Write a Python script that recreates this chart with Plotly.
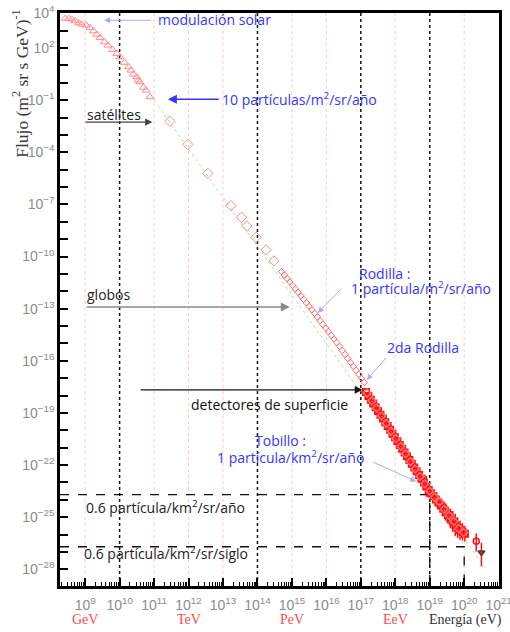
import numpy as np
import plotly.graph_objects as go

# Cosmic-ray energy spectrum.  Energies as log10(E / eV),
# fluxes as log10(flux / (m^2 sr s GeV)^-1).

# direct measurements at low energy (open triangles)
tri_logE = [8.42, 8.52, 8.61, 8.71, 8.81, 8.90, 9.03, 9.14, 9.24, 9.34, 9.43, 9.56, 9.66,
            9.80, 9.92, 10.01, 10.14, 10.26, 10.33, 10.40, 10.50, 10.54, 10.59, 10.69,
            10.77, 10.88]
tri_logF = [3.70, 3.70, 3.66, 3.56, 3.44, 3.37, 3.31, 3.18, 2.98, 2.79, 2.60, 2.35, 2.16,
            1.91, 1.68, 1.49, 1.17, 0.91, 0.72, 0.49, 0.34, 0.15, 0.05, -0.27,
            -0.43, -0.81]

# satellite / balloon measurements (open diamonds)
dia_logE = [11.46, 11.98, 12.56, 13.23, 13.54, 13.69, 13.96, 14.25, 14.48]
dia_logF = [-2.21, -3.55, -5.21, -7.07, -7.74, -8.24, -8.89, -9.62, -10.25]

# knee region (dense small markers)
knee_logE = [14.70, 14.78, 14.86, 14.94, 15.02, 15.10, 15.18, 15.26, 15.34, 15.42, 15.50,
             15.58, 15.66, 15.74, 15.82, 15.90, 15.98, 16.06, 16.14, 16.22, 16.30, 16.38,
             16.46, 16.54, 16.62, 16.70, 16.78, 16.86, 16.94, 17.02, 17.10]
knee_logF = [-10.87, -11.06, -11.26, -11.46, -11.66, -11.86, -12.06, -12.26, -12.46, -12.66,
             -12.86, -13.06, -13.27, -13.48, -13.69, -13.90, -14.11, -14.32, -14.53, -14.74,
             -14.95, -15.17, -15.40, -15.63, -15.86, -16.09, -16.32, -16.55, -16.78, -17.01,
             -17.24]

# ground arrays above 10^17 eV
uhe_logE = [17.15, 17.22, 17.29, 17.36, 17.43, 17.50, 17.57, 17.64, 17.71, 17.78, 17.85,
            17.92, 17.99, 18.06, 18.13, 18.20, 18.27, 18.34, 18.41, 18.48, 18.55, 18.62,
            18.69, 18.76, 18.83, 18.90, 18.97, 19.04, 19.11, 19.18, 19.25, 19.32, 19.39,
            19.46, 19.53, 19.60, 19.67, 19.74, 19.81, 19.88, 19.95, 20.02]
uhe_logF = [-17.80, -18.02, -18.24, -18.45, -18.67, -18.89, -19.10, -19.32, -19.54, -19.75,
            -19.97, -20.19, -20.40, -20.62, -20.84, -21.06, -21.27, -21.49, -21.71, -21.92,
            -22.14, -22.36, -22.57, -22.79, -23.01, -23.22, -23.44, -23.62, -23.80, -23.98,
            -24.15, -24.33, -24.51, -24.70, -24.88, -25.08, -25.25, -25.45, -25.60, -25.75,
            -25.85, -25.95]
uhe_err = [0.0, 0.0, 0.0, 0.0, 0.0, 0.0, 0.0, 0.0, 0.0, 0.0, 0.0,
           0.05, 0.05, 0.05, 0.05, 0.05, 0.08, 0.08, 0.08, 0.10, 0.12, 0.15,
           0.20, 0.30, 0.45, 0.60, 0.40, 0.25, 0.20, 0.25, 0.35, 0.40, 0.45,
           0.50, 0.50, 0.55, 0.60, 0.65, 0.60, 0.55, 0.50, 0.45]

# second ground-array data set (open diamonds)
agasa_logE = [17.18, 17.32, 17.46, 17.60, 17.74, 17.88, 18.02, 18.16, 18.30, 18.44,
              18.58, 18.72, 18.86, 19.00, 19.14, 19.28, 19.42, 19.56, 19.70, 19.84, 19.98]
agasa_logF = [-17.85, -18.30, -18.72, -19.17, -19.60, -20.05, -20.47, -20.92, -21.35, -21.80,
              -22.22, -22.65, -23.08, -23.50, -23.85, -24.12, -24.55, -24.90, -25.25, -25.65,
              -25.88]

# highest-energy events
top_logE = [20.35, 20.50]
top_logF = [-26.38, -27.03]
top_err_up = [0.45, 0.55]
top_err_dn = [0.60, 0.80]

# power-law guide
fit_logE = [11.0, 20.6]
fit_logF = [-1.0, -27.9]

# integral rates: 0.6 particle/km^2/sr per year and per century
rate_year = (19.0, -23.7)
rate_century = (20.0, -26.7)

x_ticks = list(range(9, 22))
y_ticks = [4, 2, -1, -4, -7, -10, -13, -16, -19, -22, -25, -28]
unit_names = ["GeV", "TeV", "PeV", "EeV"]
unit_logE = [9, 12, 15, 18]

pink_lines = [9, 11, 12, 13, 15, 16, 18, 20]
black_lines = [10, 14, 17, 19]

X_RANGE = [8.27, 21.01]
Y_RANGE = [-28.96, 4.02]


def lin(v):
    return 10.0 ** np.asarray(v, dtype=float)


def sup(n):
    s = str(n).replace("-", "\u2212")
    return f"10<sup>{s}</sup>"


fig = go.Figure()

# decade guide lines
for d in pink_lines:
    fig.add_trace(go.Scatter(x=lin([d, d]), y=lin(Y_RANGE), mode="lines",
                             line=dict(color="#ffc8c8", width=1, dash="dot")))
for d in black_lines:
    fig.add_trace(go.Scatter(x=lin([d, d]), y=lin(Y_RANGE), mode="lines",
                             line=dict(color="#111111", width=1.5, dash="dot")))

# integral-rate levels
for (ex, fl) in (rate_year, rate_century):
    fig.add_trace(go.Scatter(x=lin([X_RANGE[0], ex, ex]), y=lin([fl, fl, Y_RANGE[0]]),
                             mode="lines",
                             line=dict(color="#111111", width=1.3, dash="dash")))

# power-law guide
fig.add_trace(go.Scatter(x=lin(fit_logE), y=lin(fit_logF), mode="lines",
                         line=dict(color="#9fe89f", width=1, dash="dot")))

fig.add_trace(go.Scatter(x=lin(tri_logE), y=lin(tri_logF), mode="markers",
                         marker=dict(symbol="triangle-up-open", size=7,
                                     color="#ff8a8a", line=dict(width=1))))
fig.add_trace(go.Scatter(x=lin(dia_logE), y=lin(dia_logF), mode="markers",
                         marker=dict(symbol="diamond-open", size=8,
                                     color="#ff8a8a", line=dict(width=1))))
fig.add_trace(go.Scatter(x=lin(knee_logE), y=lin(knee_logF), mode="markers",
                         marker=dict(symbol="diamond-open", size=5,
                                     color="#ff6a6a", line=dict(width=1))))

uhe_F = lin(uhe_logF)
up = lin(np.array(uhe_logF) + np.array(uhe_err)) - uhe_F
dn = uhe_F - lin(np.array(uhe_logF) - np.array(uhe_err))
fig.add_trace(go.Scatter(x=lin(uhe_logE), y=uhe_F, mode="markers",
                         marker=dict(symbol="square-open", size=6, color="#ff1010",
                                     line=dict(width=2)),
                         error_y=dict(type="data", array=up, arrayminus=dn,
                                      color="#ff1010", thickness=1.5, width=0)))
fig.add_trace(go.Scatter(x=lin(agasa_logE), y=lin(agasa_logF), mode="markers",
                         marker=dict(symbol="diamond-open", size=6, color="#ff7070",
                                     line=dict(width=1.5))))

top_F = lin(top_logF)
fig.add_trace(go.Scatter(x=lin(top_logE), y=top_F, mode="markers",
                         marker=dict(symbol=["circle-open", "triangle-down"], size=6,
                                     color="#ff1010", line=dict(width=1.5)),
                         error_y=dict(type="data",
                                      array=lin(np.array(top_logF) + np.array(top_err_up)) - top_F,
                                      arrayminus=top_F - lin(np.array(top_logF) - np.array(top_err_dn)),
                                      color="#ff1010", thickness=1.5, width=0)))

blue = "#3535ff"
light_blue = "#a8acff"
afont = dict(family="Open Sans", size=14)

annotations = []


def text(s, x, y, color, anchor="left"):
    annotations.append(dict(text=s, x=x, y=y, xref="x", yref="y", showarrow=False,
                            xanchor=anchor, yanchor="middle",
                            font=dict(afont, color=color)))


def arrow(x0, y0, x1, y1, color, width=1.0, head=2):
    annotations.append(dict(text="", x=x1, y=y1, ax=x0, ay=y0, xref="x", yref="y",
                            axref="x", ayref="y", showarrow=True, arrowhead=head,
                            arrowsize=1.2, arrowwidth=width, arrowcolor=color))


text("modulación solar", 11.05, 3.66, blue)
arrow(10.95, 3.60, 9.55, 3.60, light_blue)
text("10 partículas/m<sup>2</sup>/sr/año", 12.9, -0.94, blue)
arrow(12.92, -0.94, 11.4, -0.94, blue, 1.5)
text("satélites", 9.0, -1.80, "#222222")
arrow(8.97, -2.26, 10.95, -2.26, "#444444", 1.2)
text("globos", 9.0, -12.21, "#222222")
arrow(9.0, -12.90, 14.94, -12.90, "#8a8a8a", 1.5)
text("Rodilla :", 16.88, -10.95, blue)
text("1 partícula/m<sup>2</sup>/sr/año", 16.65, -11.83, blue)
arrow(16.48, -11.75, 15.75, -13.24, light_blue)
text("2da Rodilla", 17.69, -15.21, blue)
arrow(17.77, -15.75, 17.17, -17.11, light_blue)
text("detectores de superficie", 12.0, -18.53, "#111111")
arrow(10.57, -17.67, 17.05, -17.67, "#111111", 1.3)
text("Tobillo :", 13.87, -20.58, blue)
text("1 partícula/km<sup>2</sup>/sr/año", 12.77, -21.53, blue)
arrow(17.31, -21.79, 18.61, -22.94, light_blue)
text("0.6 partícula/km<sup>2</sup>/sr/año", 8.97, -24.40, "#222222")
text("0.6 partícula/km<sup>2</sup>/sr/siglo", 8.92, -27.05, "#222222")

# energy scale names and axis title under the x axis
for nm, e in zip(unit_names, unit_logE):
    annotations.append(dict(text=nm, x=e, y=-0.059, xref="x", yref="paper", showarrow=False,
                            xanchor="center", yanchor="middle",
                            font=dict(family="Liberation Serif", size=14, color="#ff4a4a")))
annotations.append(dict(text="Energía (eV)", x=20.05, y=-0.059, xref="x", yref="paper",
                        showarrow=False, xanchor="center", yanchor="middle",
                        font=dict(family="Liberation Serif", size=14, color="#333333")))
annotations.append(dict(text="Flujo (m<sup>2</sup> sr s GeV)<sup>-1</sup>", textangle=-90,
                        x=-0.091, y=1.01, xref="paper", yref="paper", showarrow=False,
                        xanchor="center", yanchor="top",
                        font=dict(family="Liberation Serif", size=17.5, color="#3a3a3a")))

minor_x = [m * 10.0 ** d for d in range(8, 21) for m in range(2, 10)]

fig.update_layout(
    width=510, height=632,
    margin=dict(l=60, r=11, t=13, b=46, autoexpand=False),
    paper_bgcolor="white", plot_bgcolor="white",
    showlegend=False,
    annotations=annotations,
    xaxis=dict(type="log", range=X_RANGE, showgrid=False, zeroline=False, automargin=False,
               showline=True, linecolor="black", linewidth=2.5, mirror=True,
               ticks="inside", ticklen=8, tickwidth=1.5, tickcolor="black",
               tickvals=[10.0 ** d for d in x_ticks], ticktext=[sup(d) for d in x_ticks],
               tickfont=dict(family="Liberation Sans", size=14, color="#8c8c8c"),
               ticklabelstandoff=4, ticklabeloverflow="allow",
               minor=dict(tickvals=minor_x, ticks="inside", ticklen=4, tickwidth=1,
                          tickcolor="black", showgrid=False)),
    yaxis=dict(type="log", range=Y_RANGE, showgrid=False, zeroline=False, automargin=False,
               showline=True, linecolor="black", linewidth=2.5, mirror=True,
               ticks="inside", ticklen=8, tickwidth=1.5, tickcolor="black",
               tickvals=[10.0 ** d for d in y_ticks], ticktext=[sup(d) for d in y_ticks],
               tickfont=dict(family="Liberation Sans", size=14, color="#8c8c8c"),
               minor=dict(tickvals=[10.0 ** d for d in range(-28, 5)], ticks="inside",
                          ticklen=8, tickwidth=1.5, tickcolor="black", showgrid=False)),
)

fig.write_html("out.html")
